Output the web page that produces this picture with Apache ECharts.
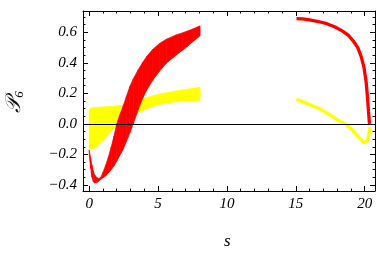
<!DOCTYPE html>
<html>
<head>
<meta charset="utf-8">
<script src="https://cdn.jsdelivr.net/npm/echarts@6/dist/echarts.min.js"></script>
<style>html,body{margin:0;padding:0;background:#fff;}#c{width:377px;height:262px;}</style>
</head>
<body>
<div id="c"></div>
<script>
// ---- data ----
const redS =     [0, 0.1, 0.2, 0.3, 0.4, 0.55, 0.7, 0.85, 1.0, 1.2, 1.4, 1.6, 1.8, 2.0, 2.2, 2.45, 2.7, 2.95, 3.2, 3.55, 3.9, 4.2, 4.6, 5.1, 5.6, 6.3, 6.8, 7.1, 7.6, 8.05];
const redUpper = [-0.17,-0.22,-0.27,-0.31,-0.335,-0.352,-0.36,-0.348,-0.318,-0.27,-0.215,-0.15,-0.08,0.0,0.055,0.113,0.18,0.245,0.295,0.354,0.405,0.445,0.487,0.527,0.555,0.583,0.598,0.608,0.625,0.643];
const redLower = [-0.20,-0.29,-0.35,-0.378,-0.388,-0.385,-0.375,-0.363,-0.353,-0.34,-0.322,-0.30,-0.275,-0.245,-0.21,-0.17,-0.115,-0.06,0.0,0.092,0.172,0.225,0.285,0.345,0.398,0.45,0.485,0.505,0.545,0.577];

const yelS =     [0, 0.05, 0.2, 0.5, 0.75, 1.0, 1.25, 1.5, 1.75, 2.0, 2.5, 3.0, 3.5, 4.0, 4.5, 5.1, 5.7, 6.3, 6.9, 7.5, 8.05];
const yelUpper = [0.095,0.10,0.105,0.108,0.11,0.111,0.112,0.113,0.115,0.117,0.125,0.138,0.152,0.168,0.181,0.195,0.206,0.216,0.225,0.232,0.24];
const yelLower = [-0.15,-0.163,-0.165,-0.155,-0.132,-0.108,-0.082,-0.055,-0.033,-0.015,0.015,0.045,0.072,0.093,0.11,0.128,0.138,0.145,0.149,0.152,0.155];

const redRightS = [15.05,15.5,16.0,16.64,17.25,17.85,18.4,18.82,19.2,19.5,19.75,19.95,20.1,20.2,20.28,20.35];
const redRightV = [0.69,0.688,0.682,0.671,0.657,0.635,0.608,0.58,0.54,0.50,0.44,0.37,0.28,0.18,0.08,0.0];

const yelRightS = [15.05,15.5,16.0,16.64,17.25,17.85,18.3,18.6,19.0,19.4,19.7,19.9,20.05,20.2,20.3,20.38];
const yelRightV = [0.162,0.146,0.127,0.103,0.072,0.037,0.012,0.0,-0.03,-0.07,-0.10,-0.118,-0.122,-0.11,-0.07,-0.02];

const xMajor = [0, 5, 10, 15, 20];
const xMinor = [1,2,3,4,6,7,8,9,11,12,13,14,16,17,18,19];
const yMajor = [-0.4, -0.2, 0, 0.2, 0.4, 0.6];
const yMinor = [-0.35,-0.3,-0.25,-0.15,-0.1,-0.05,0.05,0.1,0.15,0.25,0.3,0.35,0.45,0.5,0.55,0.65,0.7];

// ---- chart ----
const X0 = -0.45, X1 = 20.75, Y0 = -0.44, Y1 = 0.74;
const labelFont = {fontFamily:'Liberation Serif', fontStyle:'italic', fontSize:15, color:'#000'};
function fmtY(v){ return (v < 0 ? '\u2212' : '') + Math.abs(v).toFixed(1); }

function xAx(pos, vals, len, withLine, withLabel){
  return {type:'value', position:pos, min:X0, max:X1,
    axisLine:{show:withLine, onZero:false, lineStyle:{color:'#000', width:1}},
    axisTick:{show:true, inside:true, length:len, customValues:vals, lineStyle:{color:'#000', width:1}},
    axisLabel: withLabel ? Object.assign({show:true, margin:6, customValues:vals, formatter:v=>String(v)}, labelFont) : {show:false},
    splitLine:{show:false}};
}
function yAx(pos, vals, len, withLine, withLabel){
  return {type:'value', position:pos, min:Y0, max:Y1,
    axisLine:{show:withLine, onZero:false, lineStyle:{color:'#000', width:1}},
    axisTick:{show:true, inside:true, length:len, customValues:vals, lineStyle:{color:'#000', width:1}},
    axisLabel: withLabel ? Object.assign({show:true, margin:6, customValues:vals, formatter:fmtY}, labelFont) : {show:false},
    splitLine:{show:false}};
}

// band segments: [s_i, lo_i, up_i, s_{i+1}, lo_{i+1}, up_{i+1}]
function segs(S, L, U){
  const out = [];
  for (let i = 0; i < S.length - 1; i++) out.push([S[i], L[i], U[i], S[i+1], L[i+1], U[i+1]]);
  return out;
}
function bandSeries(name, S, L, U, color, z){
  return {type:'custom', name:name, silent:true, z:z, clip:true,
    encode:{x:[0,3], y:[1,2,4,5]},
    data: segs(S, L, U),
    renderItem: function(params, api){
      const a = api.coord([api.value(0), api.value(1)]);
      const b = api.coord([api.value(3), api.value(4)]);
      const c = api.coord([api.value(3), api.value(5)]);
      const d = api.coord([api.value(0), api.value(2)]);
      return {type:'polygon', shape:{points:[a,b,c,d]},
        style:{fill:color, stroke:color, lineWidth:0.7}};
    }};
}

const chart = echarts.init(document.getElementById('c'), null, {renderer:'canvas'});
chart.setOption({
  animation:false,
  grid:{left:83, right:2, top:11, bottom:71, containLabel:false},
  xAxis:[
    xAx('bottom', xMajor, 5, true, true),
    xAx('bottom', xMinor, 2.5, false, false),
    xAx('top', xMajor, 5, true, false),
    xAx('top', xMinor, 2.5, false, false)
  ],
  yAxis:[
    yAx('left', yMajor, 5, true, true),
    yAx('left', yMinor, 2.5, false, false),
    yAx('right', yMajor, 5, true, false),
    yAx('right', yMinor, 2.5, false, false)
  ],
  graphic:[
    {type:'text', left:228-4, top:233, style:{text:'s', font:'italic 17px "Liberation Serif"', fill:'#000'}},
    {type:'text', x:15, y:102, rotation:Math.PI/2,
      style:{text:'{p|\uD835\uDCAB}{s|6}', align:'center', verticalAlign:'middle',
        rich:{p:{fontSize:21, fontFamily:'DejaVu Serif', fill:'#111', fontStyle:'italic'},
              s:{fontSize:13, fontFamily:'Liberation Serif', fontStyle:'italic', fill:'#111', padding:[9,0,0,0]}}}}
  ],
  series:[
    bandSeries('yellowBand', yelS, yelLower, yelUpper, '#ffff00', 2),
    bandSeries('redBand', redS, redLower, redUpper, '#ff0000', 3),
    {type:'line', name:'yr', symbol:'none', silent:true, z:4, lineStyle:{width:3.3, color:'#ffff00'},
      data: yelRightS.map((s,i)=>[s, yelRightV[i]])},
    {type:'line', name:'rr', symbol:'none', silent:true, z:5, lineStyle:{width:3.3, color:'#ff0000'},
      data: redRightS.map((s,i)=>[s, redRightV[i]]),
      markLine:{silent:true, z:10, symbol:['none','none'], label:{show:false},
        lineStyle:{color:'#000', width:1, type:'solid'}, data:[{yAxis:0}]}}
  ]
});
</script>
</body>
</html>
